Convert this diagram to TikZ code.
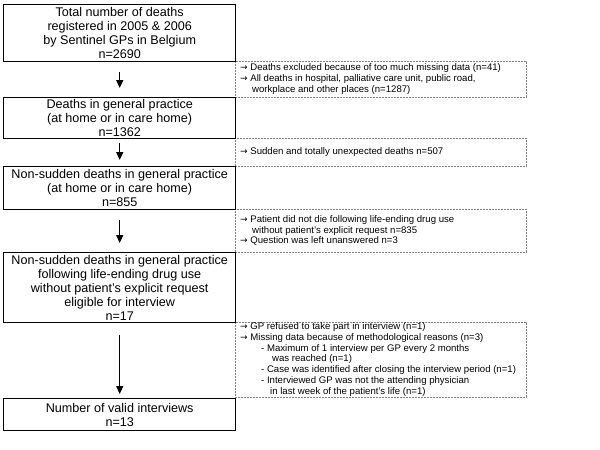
\documentclass[tikz,border=0pt]{standalone}
\usepackage{fontspec}
\setmainfont{Liberation Sans}
\newfontfamily\arrfont{DejaVu Sans}
\usetikzlibrary{arrows.meta}
\begin{document}
\begin{tikzpicture}[x=1pt,y=-1pt,
  mainbox/.style={draw=black, line width=1.4pt, fill=white, anchor=north west,
    minimum width=232pt, inner sep=0pt, align=center,
    font=\fontsize{12.6pt}{14pt}\selectfont},
  notebox/.style={draw=black!50, line width=0.7pt, dash pattern=on 2pt off 1pt,
    anchor=north west, minimum width=291pt, inner sep=0pt},
  notetext/.style={anchor=west, inner sep=0pt, align=left,
    font=\fontsize{9.6pt}{10.8pt}\selectfont},
  flow/.style={line width=1.2pt, -{Triangle[width=7pt,length=8pt]},
    shorten <=10pt, shorten >=9pt}]
\useasboundingbox (0,0) rectangle (600,450);
\newcommand{\ra}{{\arrfont\fontsize{9pt}{10.8pt}\selectfont →}\ }
\newcommand{\ind}{\hspace*{12pt}}
% note boxes
\node[notebox, minimum height=36pt] (n1) at (235,61) {};
\node[notebox, minimum height=28pt] (n2) at (235,138) {};
\node[notebox, minimum height=43pt] (n3) at (235,209) {};
\node[notebox, minimum height=75pt] (n4) at (235,322) {};
\node[notetext] (t1) at (240,79) {\ra Deaths excluded because of too much missing data (n=41)\\
\ra All deaths in hospital, palliative care unit, public road,\\
\ind workplace and other places (n=1287)};
\node[notetext] (t2) at (240,152) {\ra Sudden and totally unexpected deaths n=507};
\node[notetext] (t3) at (240,230.5) {\ra Patient did not die following life-ending drug use\\
\ind without patient's explicit request n=835\\
\ra Question was left unanswered n=3};
\node[notetext] (t4) at (240,359.5) {\ra GP refused to take part in interview (n=1)\\
\ra Missing data because of methodological reasons (n=3)\\
\hspace*{21pt}- Maximum of 1 interview per GP every 2 months\\
\hspace*{32pt}was reached (n=1)\\
\hspace*{21pt}- Case was identified after closing the interview period (n=1)\\
\hspace*{21pt}- Interviewed GP was not the attending physician\\
\hspace*{30pt}in last week of the patient's life (n=1)};
% main boxes
\node[mainbox, minimum height=57pt] (b1) at (3,4) {Total number of deaths\\registered in 2005 \& 2006\\by Sentinel GPs in Belgium\\n=2690};
\node[mainbox, minimum height=41pt] (b2) at (3,97) {Deaths in general practice\\(at home or in care home)\\n=1362};
\node[mainbox, minimum height=43pt] (b3) at (3,166) {Non-sudden deaths in general practice\\(at home or in care home)\\n=855};
\node[mainbox, minimum height=70pt] (b4) at (3,252) {Non-sudden deaths in general practice\\following life-ending drug use\\without patient's explicit request\\eligible for interview\\n=17};
\node[mainbox, minimum height=32pt] (b5) at (3,398) {Number of valid interviews\\n=13};
% arrows
\draw[flow] (b1) -- (b2);
\draw[flow, shorten <=4pt, shorten >=6pt] (b2) -- (b3);
\draw[flow] (b3) -- (b4);
\draw[flow, shorten <=12pt, shorten >=4pt] (b4) -- (b5);
\end{tikzpicture}
\end{document}
